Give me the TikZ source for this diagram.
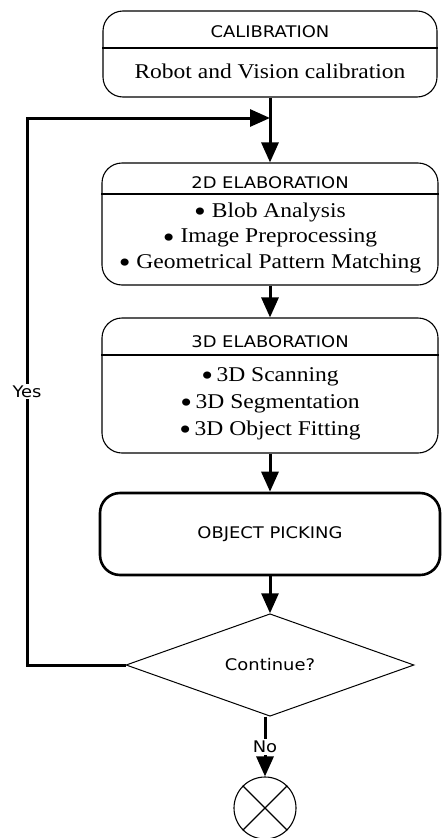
\documentclass[tikz,border=0pt]{standalone}
\usepackage{fontspec}
\setmainfont[FakeStretch=1.12]{Liberation Serif}
\newfontfamily\capsfont[FakeStretch=1.12]{DejaVu Sans}
\usetikzlibrary{shapes.geometric, arrows.meta}
\newcommand\itemdot{\raisebox{-4.5pt}[0pt][0pt]{\fontsize{30}{25}\selectfont\textbullet}}

\begin{document}
\begin{tikzpicture}[x=1pt, y=-1pt,
  stage/.style={draw, line width=1.1pt, rounded corners=20pt, inner sep=0pt},
  title/.style={font=\capsfont\fontsize{16}{19}\selectfont, anchor=base, inner sep=0pt},
  items/.style={font=\fontsize{21}{25.5}\selectfont, align=center, anchor=base, inner sep=0pt},
  answer/.style={font=\capsfont\fontsize{16}{19}\selectfont, fill=white, inner sep=2pt},
  flow/.style={line width=3pt, -{Triangle[length=20pt,width=17pt]}}]

\useasboundingbox (0,0) rectangle (442,838);

% calibration
\node[stage, minimum width=334pt, minimum height=86pt] (calib) at (270,54) {};
\node[title] (calibtitle) at (270,37) {CALIBRATION};
\draw[line width=1.1pt] (calib.west |- 0,48) -- (calib.east |- 0,48);
\node[items] (calibtext) at (270,78) {Robot and Vision calibration};

% 2D elaboration (base = last line)
\node[stage, minimum width=336pt, minimum height=122pt] (flat) at (270,224) {};
\node[title] (flattitle) at (270,188) {2D ELABORATION};
\draw[line width=1.1pt] (flat.west |- 0,194) -- (flat.east |- 0,194);
\node[items] (flattext) at (270,268) {\itemdot\ Blob Analysis\\
  \itemdot\ Image Preprocessing\\
  \itemdot\ Geometrical Pattern Matching};

% 3D elaboration
\node[stage, minimum width=336pt, minimum height=135pt] (depth) at (270,385.5) {};
\node[title] (depthtitle) at (270,347) {3D ELABORATION};
\draw[line width=1.1pt] (depth.west |- 0,355) -- (depth.east |- 0,355);
\node[items, font=\fontsize{21}{27}\selectfont] (depthtext) at (270,435) {\itemdot\,3D Scanning\\
  \itemdot\,3D Segmentation\\
  \itemdot\,3D Object Fitting};

% picking and decision
\node[stage, line width=2.6pt, minimum width=340pt, minimum height=82pt,
  font=\capsfont\fontsize{16}{19}\selectfont] (pick) at (270,534) {OBJECT PICKING};
\node[draw, diamond, line width=1pt, minimum width=288pt, minimum height=96pt, inner sep=0pt,
  font=\capsfont\fontsize{16}{19}\selectfont] (dec) at (270,665) {Continue?};
\node[draw, circle, line width=1.1pt, minimum size=62pt, inner sep=0pt] (stop) at (265,808) {};
\draw[line width=1.1pt] (stop.north west) -- (stop.south east)
  (stop.north east) -- (stop.south west);

\coordinate (merge) at (270,118);
\coordinate (backtop) at (27,118);

\draw[flow] (calib.south) -- (flat.north);
\draw[flow] (flat.south) -- (depth.north);
\draw[flow] (depth.south) -- (pick.north);
\draw[flow] (pick.south) -- (dec.north);
\draw[flow] (dec.west) -| node[pos=0.75, answer] (yes) {Yes} (backtop) -- (merge);
\draw[flow] (stop.north |- dec.south) -- node[answer] (no) {No} (stop.north);

\end{tikzpicture}
\end{document}
